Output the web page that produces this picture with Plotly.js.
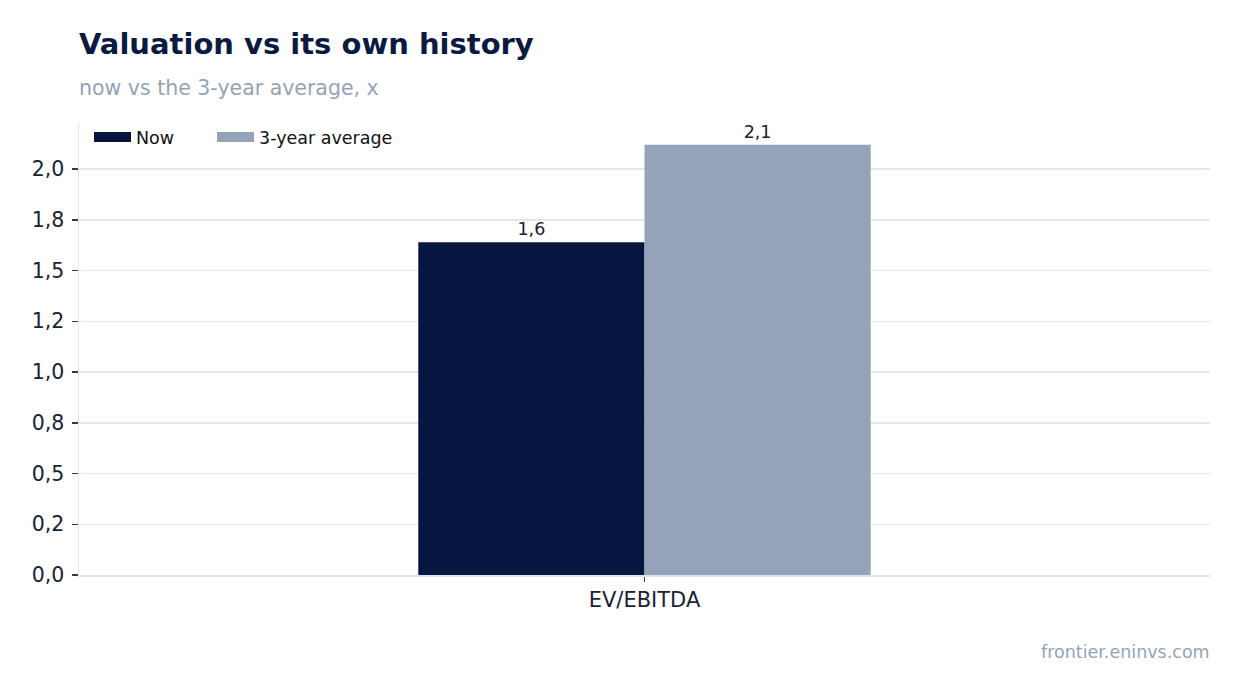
<!DOCTYPE html>
<html>
<head>
<meta charset="utf-8">
<script src="https://cdn.plot.ly/plotly-3.0.1.min.js"></script>
<style>html,body{margin:0;padding:0;background:#fff;}#chart{width:1241px;height:693px;}</style>
</head>
<body>
<div id="chart"></div>
<script>
const categories = ["EV/EBITDA"];
const seriesNames = ["Now", "3-year average"];
const nowValues = [1.64];
const avgValues = [2.12];
const tickValues = [0, 0.25, 0.5, 0.75, 1.0, 1.25, 1.5, 1.75, 2.0];
const tickLabels = ["0,0", "0,2", "0,5", "0,8", "1,0", "1,2", "1,5", "1,8", "2,0"];
const colors = ["#061641", "#94a3b8"];

const FONT = "DejaVu Sans, sans-serif";

const traces = [
  {
    type: "bar", x: categories, y: nowValues, name: seriesNames[0],
    marker: {color: colors[0]}, showlegend: false,
    texttemplate: "%{y:.1f}", textposition: "outside",
    textfont: {family: FONT, size: 17.5, color: "#1a2233"}, cliponaxis: false,
    hoverinfo: "skip"
  },
  {
    type: "bar", x: categories, y: avgValues, name: seriesNames[1],
    marker: {color: colors[1]}, showlegend: false,
    texttemplate: "%{y:.1f}", textposition: "outside",
    textfont: {family: FONT, size: 17.5, color: "#1a2233"}, cliponaxis: false,
    hoverinfo: "skip"
  },
  {type: "scatter", mode: "lines", x: [null], y: [null], name: seriesNames[0],
   line: {color: colors[0], width: 12}, showlegend: true, legend: "legend"},
  {type: "scatter", mode: "lines", x: [null], y: [null], name: seriesNames[1],
   line: {color: colors[1], width: 12}, showlegend: true, legend: "legend2"}
];

const legendCommon = {
  orientation: "h", xanchor: "left", y: 1 + 4 / 452, yanchor: "top",
  bgcolor: "rgba(0,0,0,0)", borderwidth: 0, itemwidth: 37,
  font: {family: FONT, size: 17.5, color: "#111111"}
};

const layout = {
  width: 1241, height: 693,
  margin: {l: 79, r: 31, t: 123, b: 118, pad: 0},
  paper_bgcolor: "#ffffff", plot_bgcolor: "#ffffff",
  separators: ", ",
  font: {family: FONT, color: "#1a2233"},
  barmode: "group", bargap: 0.2, bargroupgap: 0,
  title: {
    text: "<b>Valuation vs its own history</b>",
    font: {family: FONT, size: 29, color: "#0b1a40"},
    x: 79 / 1241, xanchor: "left", xref: "container",
    y: 1 - 44 / 693, yanchor: "middle", yref: "container"
  },
  xaxis: {
    type: "category", range: [-1, 1],
    showgrid: false, showline: true, linecolor: "#dfe4ec", linewidth: 1.5,
    ticks: "outside", ticklen: 5, tickcolor: "#333a4a", tickwidth: 1.5,
    tickfont: {family: FONT, size: 21, color: "#1a2233"},
    zeroline: false, fixedrange: true
  },
  yaxis: {
    range: [0, 2.227],
    tickmode: "array", tickvals: tickValues, ticktext: tickLabels,
    showgrid: true, gridcolor: "#e3e7ee", gridwidth: 1.5,
    showline: true, linecolor: "#e3e7ee", linewidth: 1.5,
    ticks: "outside", ticklen: 6, tickcolor: "#333a4a", tickwidth: 1.5,
    ticklabelstandoff: 3,
    tickfont: {family: FONT, size: 20.5, color: "#1a2233"},
    zeroline: false, fixedrange: true
  },
  legend: Object.assign({}, legendCommon, {x: 10 / 1131}),
  legend2: Object.assign({}, legendCommon, {x: 133 / 1131}),
  annotations: [
    {text: "now vs the 3-year average, x", xref: "paper", yref: "paper",
     x: -2 / 1131, y: 1 + 35 / 452, xanchor: "left", yanchor: "middle", showarrow: false,
     font: {family: FONT, size: 20.5, color: "#94a3b8"}},
    {text: "frontier.eninvs.com", xref: "paper", yref: "paper",
     x: 1 + 2 / 1131, y: -77 / 452, xanchor: "right", yanchor: "middle", showarrow: false,
     font: {family: FONT, size: 17.5, color: "#94a3b8"}}
  ]
};

Plotly.newPlot("chart", traces, layout, {displayModeBar: false, staticPlot: true});
</script>
</body>
</html>
